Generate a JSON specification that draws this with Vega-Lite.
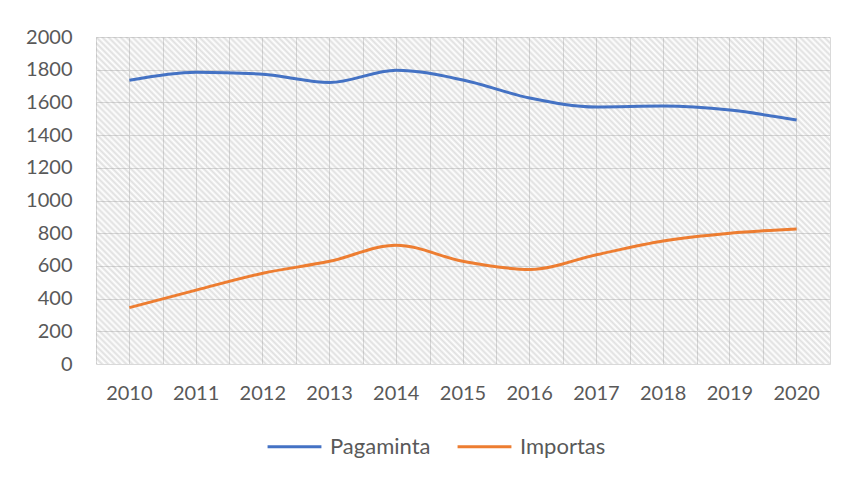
{
  "$schema": "https://vega.github.io/schema/vega-lite/v6.json",
  "width": 734,
  "height": 327,
  "padding": {"left": 25, "top": 27, "right": 19, "bottom": 10},
  "background": "white",
  "config": {
    "view": {"stroke": null},
    "font": "Lato",
    "axis": {"labelFont": "Lato", "labelFontSize": 20, "labelColor": "#595959", "gridColor": "#d9d9d9", "gridWidth": 1, "domain": false, "ticks": false},
    "axisY": {"labelPadding": 24, "format": "d"}
  },
  "data": {"values": [
    {"year": 2010, "series": "Pagaminta", "value": 1735},
    {"year": 2011, "series": "Pagaminta", "value": 1785},
    {"year": 2012, "series": "Pagaminta", "value": 1772},
    {"year": 2013, "series": "Pagaminta", "value": 1722},
    {"year": 2014, "series": "Pagaminta", "value": 1797},
    {"year": 2015, "series": "Pagaminta", "value": 1737},
    {"year": 2016, "series": "Pagaminta", "value": 1627},
    {"year": 2017, "series": "Pagaminta", "value": 1572},
    {"year": 2018, "series": "Pagaminta", "value": 1578},
    {"year": 2019, "series": "Pagaminta", "value": 1553},
    {"year": 2020, "series": "Pagaminta", "value": 1492},
    {"year": 2010, "series": "Importas", "value": 345},
    {"year": 2011, "series": "Importas", "value": 452},
    {"year": 2012, "series": "Importas", "value": 555},
    {"year": 2013, "series": "Importas", "value": 628},
    {"year": 2014, "series": "Importas", "value": 727},
    {"year": 2015, "series": "Importas", "value": 628},
    {"year": 2016, "series": "Importas", "value": 578},
    {"year": 2017, "series": "Importas", "value": 668},
    {"year": 2018, "series": "Importas", "value": 752},
    {"year": 2019, "series": "Importas", "value": 800},
    {"year": 2020, "series": "Importas", "value": 826}
  ]},
  "layer": [
    {
      "transform": [{"filter": "datum.series === 'Pagaminta'"}],
      "mark": {"type": "bar", "stroke": null, "fill": {
        "gradient": "linear", "x1": 0, "y1": 1, "x2": 0.2359, "y2": -0.1559,
        "stops": [
{"offset":0,"color":"rgba(150,150,150,0.3)"},{"offset":0.0077,"color":"rgba(150,150,150,0)"},
{"offset":0.0154,"color":"rgba(150,150,150,0.3)"},{"offset":0.0231,"color":"rgba(150,150,150,0)"},
{"offset":0.0308,"color":"rgba(150,150,150,0.3)"},{"offset":0.0385,"color":"rgba(150,150,150,0)"},
{"offset":0.0462,"color":"rgba(150,150,150,0.3)"},{"offset":0.0538,"color":"rgba(150,150,150,0)"},
{"offset":0.0615,"color":"rgba(150,150,150,0.3)"},{"offset":0.0692,"color":"rgba(150,150,150,0)"},
{"offset":0.0769,"color":"rgba(150,150,150,0.3)"},{"offset":0.0846,"color":"rgba(150,150,150,0)"},
{"offset":0.0923,"color":"rgba(150,150,150,0.3)"},{"offset":0.1,"color":"rgba(150,150,150,0)"},
{"offset":0.1077,"color":"rgba(150,150,150,0.3)"},{"offset":0.1154,"color":"rgba(150,150,150,0)"},
{"offset":0.1231,"color":"rgba(150,150,150,0.3)"},{"offset":0.1308,"color":"rgba(150,150,150,0)"},
{"offset":0.1385,"color":"rgba(150,150,150,0.3)"},{"offset":0.1462,"color":"rgba(150,150,150,0)"},
{"offset":0.1538,"color":"rgba(150,150,150,0.3)"},{"offset":0.1615,"color":"rgba(150,150,150,0)"},
{"offset":0.1692,"color":"rgba(150,150,150,0.3)"},{"offset":0.1769,"color":"rgba(150,150,150,0)"},
{"offset":0.1846,"color":"rgba(150,150,150,0.3)"},{"offset":0.1923,"color":"rgba(150,150,150,0)"},
{"offset":0.2,"color":"rgba(150,150,150,0.3)"},{"offset":0.2077,"color":"rgba(150,150,150,0)"},
{"offset":0.2154,"color":"rgba(150,150,150,0.3)"},{"offset":0.2231,"color":"rgba(150,150,150,0)"},
{"offset":0.2308,"color":"rgba(150,150,150,0.3)"},{"offset":0.2385,"color":"rgba(150,150,150,0)"},
{"offset":0.2462,"color":"rgba(150,150,150,0.3)"},{"offset":0.2538,"color":"rgba(150,150,150,0)"},
{"offset":0.2615,"color":"rgba(150,150,150,0.3)"},{"offset":0.2692,"color":"rgba(150,150,150,0)"},
{"offset":0.2769,"color":"rgba(150,150,150,0.3)"},{"offset":0.2846,"color":"rgba(150,150,150,0)"},
{"offset":0.2923,"color":"rgba(150,150,150,0.3)"},{"offset":0.3,"color":"rgba(150,150,150,0)"},
{"offset":0.3077,"color":"rgba(150,150,150,0.3)"},{"offset":0.3154,"color":"rgba(150,150,150,0)"},
{"offset":0.3231,"color":"rgba(150,150,150,0.3)"},{"offset":0.3308,"color":"rgba(150,150,150,0)"},
{"offset":0.3385,"color":"rgba(150,150,150,0.3)"},{"offset":0.3462,"color":"rgba(150,150,150,0)"},
{"offset":0.3538,"color":"rgba(150,150,150,0.3)"},{"offset":0.3615,"color":"rgba(150,150,150,0)"},
{"offset":0.3692,"color":"rgba(150,150,150,0.3)"},{"offset":0.3769,"color":"rgba(150,150,150,0)"},
{"offset":0.3846,"color":"rgba(150,150,150,0.3)"},{"offset":0.3923,"color":"rgba(150,150,150,0)"},
{"offset":0.4,"color":"rgba(150,150,150,0.3)"},{"offset":0.4077,"color":"rgba(150,150,150,0)"},
{"offset":0.4154,"color":"rgba(150,150,150,0.3)"},{"offset":0.4231,"color":"rgba(150,150,150,0)"},
{"offset":0.4308,"color":"rgba(150,150,150,0.3)"},{"offset":0.4385,"color":"rgba(150,150,150,0)"},
{"offset":0.4462,"color":"rgba(150,150,150,0.3)"},{"offset":0.4538,"color":"rgba(150,150,150,0)"},
{"offset":0.4615,"color":"rgba(150,150,150,0.3)"},{"offset":0.4692,"color":"rgba(150,150,150,0)"},
{"offset":0.4769,"color":"rgba(150,150,150,0.3)"},{"offset":0.4846,"color":"rgba(150,150,150,0)"},
{"offset":0.4923,"color":"rgba(150,150,150,0.3)"},{"offset":0.5,"color":"rgba(150,150,150,0)"},
{"offset":0.5077,"color":"rgba(150,150,150,0.3)"},{"offset":0.5154,"color":"rgba(150,150,150,0)"},
{"offset":0.5231,"color":"rgba(150,150,150,0.3)"},{"offset":0.5308,"color":"rgba(150,150,150,0)"},
{"offset":0.5385,"color":"rgba(150,150,150,0.3)"},{"offset":0.5462,"color":"rgba(150,150,150,0)"},
{"offset":0.5538,"color":"rgba(150,150,150,0.3)"},{"offset":0.5615,"color":"rgba(150,150,150,0)"},
{"offset":0.5692,"color":"rgba(150,150,150,0.3)"},{"offset":0.5769,"color":"rgba(150,150,150,0)"},
{"offset":0.5846,"color":"rgba(150,150,150,0.3)"},{"offset":0.5923,"color":"rgba(150,150,150,0)"},
{"offset":0.6,"color":"rgba(150,150,150,0.3)"},{"offset":0.6077,"color":"rgba(150,150,150,0)"},
{"offset":0.6154,"color":"rgba(150,150,150,0.3)"},{"offset":0.6231,"color":"rgba(150,150,150,0)"},
{"offset":0.6308,"color":"rgba(150,150,150,0.3)"},{"offset":0.6385,"color":"rgba(150,150,150,0)"},
{"offset":0.6462,"color":"rgba(150,150,150,0.3)"},{"offset":0.6538,"color":"rgba(150,150,150,0)"},
{"offset":0.6615,"color":"rgba(150,150,150,0.3)"},{"offset":0.6692,"color":"rgba(150,150,150,0)"},
{"offset":0.6769,"color":"rgba(150,150,150,0.3)"},{"offset":0.6846,"color":"rgba(150,150,150,0)"},
{"offset":0.6923,"color":"rgba(150,150,150,0.3)"},{"offset":0.7,"color":"rgba(150,150,150,0)"},
{"offset":0.7077,"color":"rgba(150,150,150,0.3)"},{"offset":0.7154,"color":"rgba(150,150,150,0)"},
{"offset":0.7231,"color":"rgba(150,150,150,0.3)"},{"offset":0.7308,"color":"rgba(150,150,150,0)"},
{"offset":0.7385,"color":"rgba(150,150,150,0.3)"},{"offset":0.7462,"color":"rgba(150,150,150,0)"},
{"offset":0.7538,"color":"rgba(150,150,150,0.3)"},{"offset":0.7615,"color":"rgba(150,150,150,0)"},
{"offset":0.7692,"color":"rgba(150,150,150,0.3)"},{"offset":0.7769,"color":"rgba(150,150,150,0)"},
{"offset":0.7846,"color":"rgba(150,150,150,0.3)"},{"offset":0.7923,"color":"rgba(150,150,150,0)"},
{"offset":0.8,"color":"rgba(150,150,150,0.3)"},{"offset":0.8077,"color":"rgba(150,150,150,0)"},
{"offset":0.8154,"color":"rgba(150,150,150,0.3)"},{"offset":0.8231,"color":"rgba(150,150,150,0)"},
{"offset":0.8308,"color":"rgba(150,150,150,0.3)"},{"offset":0.8385,"color":"rgba(150,150,150,0)"},
{"offset":0.8462,"color":"rgba(150,150,150,0.3)"},{"offset":0.8538,"color":"rgba(150,150,150,0)"},
{"offset":0.8615,"color":"rgba(150,150,150,0.3)"},{"offset":0.8692,"color":"rgba(150,150,150,0)"},
{"offset":0.8769,"color":"rgba(150,150,150,0.3)"},{"offset":0.8846,"color":"rgba(150,150,150,0)"},
{"offset":0.8923,"color":"rgba(150,150,150,0.3)"},{"offset":0.9,"color":"rgba(150,150,150,0)"},
{"offset":0.9077,"color":"rgba(150,150,150,0.3)"},{"offset":0.9154,"color":"rgba(150,150,150,0)"},
{"offset":0.9231,"color":"rgba(150,150,150,0.3)"},{"offset":0.9308,"color":"rgba(150,150,150,0)"},
{"offset":0.9385,"color":"rgba(150,150,150,0.3)"},{"offset":0.9462,"color":"rgba(150,150,150,0)"},
{"offset":0.9538,"color":"rgba(150,150,150,0.3)"},{"offset":0.9615,"color":"rgba(150,150,150,0)"},
{"offset":0.9692,"color":"rgba(150,150,150,0.3)"},{"offset":0.9769,"color":"rgba(150,150,150,0)"},
{"offset":0.9846,"color":"rgba(150,150,150,0.3)"},{"offset":0.9923,"color":"rgba(150,150,150,0)"},
{"offset":1,"color":"rgba(150,150,150,0.3)"}
        ]
      }},
      "encoding": {
        "x": {"field": "year", "type": "ordinal", "scale": {"type": "band", "paddingInner": 0, "paddingOuter": 0},
              "axis": {"orient": "top", "tickBand": "extent", "labels": false, "grid": true, "title": null}},
        "y": {"datum": 2000, "type": "quantitative", "scale": {"domain": [0, 2000], "nice": false},
              "axis": {"values": [0,200,400,600,800,1000,1200,1400,1600,1800,2000], "title": null, "grid": true}},
        "y2": {"datum": 0}
      }
    },
    {
      "mark": {"type": "line", "strokeWidth": 3, "interpolate": "monotone"},
      "encoding": {
        "x": {"field": "year", "type": "ordinal", "bandPosition": 0.5,
              "axis": {"orient": "bottom", "grid": true, "labelAngle": 0, "labelPadding": 19, "title": null}},
        "y": {"field": "value", "type": "quantitative",
              "axis": {"values": [0,200,400,600,800,1000,1200,1400,1600,1800,2000], "title": null, "grid": true}},
        "color": {"field": "series", "type": "nominal",
                  "scale": {"domain": ["Pagaminta", "Importas"], "range": ["#4472C4", "#ED7D31"]},
                  "legend": {"orient": "none", "legendX": 170, "legendY": 381, "direction": "horizontal", "title": null, "symbolType": "stroke",
                             "symbolSize": 2900, "symbolStrokeWidth": 3, "labelFont": "Lato", "labelFontSize": 22,
                             "labelColor": "#595959", "labelOffset": 7, "columnPadding": 20}}
      }
    }
  ],
  "resolve": {"axis": {"x": "independent"}}
}
